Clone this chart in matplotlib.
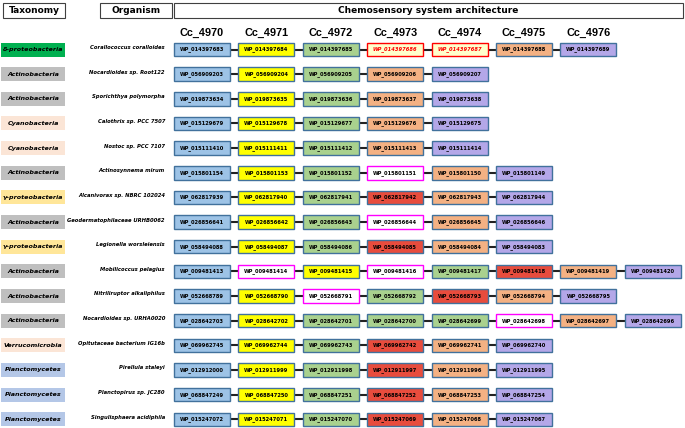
import matplotlib
matplotlib.use("Agg")
import matplotlib.pyplot as plt
from matplotlib.patches import Rectangle

# ---------------- data ----------------
columns = ["Cc_4970", "Cc_4971", "Cc_4972", "Cc_4973", "Cc_4974", "Cc_4975", "Cc_4976"]

taxonomy = ["δ-proteobacteria", "Actinobacteria", "Actinobacteria", "Cyanobacteria", "Cyanobacteria",
            "Actinobacteria", "γ-proteobacteria", "Actinobacteria", "γ-proteobacteria", "Actinobacteria",
            "Actinobacteria", "Actinobacteria", "Verrucomicrobia", "Planctomycetes", "Planctomycetes",
            "Planctomycetes"]

organisms = ["Corallococcus coralloides", "Nocardioides sp. Root122", "Sporichthya polymorpha",
             "Calothrix sp. PCC 7507", "Nostoc sp. PCC 7107", "Actinosynnema mirum",
             "Alcanivorax sp. NBRC 102024", "Geodermatophilaceae URHB0062", "Legionella worsleiensis",
             "Mobilicoccus pelagius", "Nitriliruptor alkaliphilus", "Nocardioides sp. URHA0020",
             "Opitutaceae bacterium IG16b", "Pirellula staleyi", "Planctopirus sp. JC280",
             "Singulisphaera acidiphila"]

proteins = [
    ["014397683", "014397684", "014397685", "014397686", "014397687", "014397688", "014397689"],
    ["056909203", "056909204", "056909205", "056909206", "056909207"],
    ["019873634", "019873635", "019873636", "019873637", "019873638"],
    ["015129679", "015129678", "015129677", "015129676", "015129675"],
    ["015111410", "015111411", "015111412", "015111413", "015111414"],
    ["015801154", "015801153", "015801152", "015801151", "015801150", "015801149"],
    ["062817939", "062817940", "062817941", "062817942", "062817943", "062817944"],
    ["026856641", "026856642", "026856643", "026856644", "026856645", "026856646"],
    ["058494088", "058494087", "058494086", "058494085", "058494084", "058494083"],
    ["009481413", "009481414", "009481415", "009481416", "009481417", "009481418", "009481419", "009481420"],
    ["052668789", "052668790", "052668791", "052668792", "052668793", "052668794", "052668795"],
    ["028642703", "028642702", "028642701", "028642700", "028642699", "028642698", "028642697", "028642696"],
    ["069962745", "069962744", "069962743", "069962742", "069962741", "069962740"],
    ["012912000", "012911999", "012911998", "012911997", "012911996", "012911995"],
    ["068847249", "068847250", "068847251", "068847252", "068847253", "068847254"],
    ["015247072", "015247071", "015247070", "015247069", "015247068", "015247067"],
]

# protein class per box: b=blue, y=yellow, g=green, w=white/magenta, r=red, o=orange, p=purple, s=special
classes = [
    "bygssop", "bygop", "bygop", "bygop", "bygop", "bygwop", "bygrop", "bygwop", "bygrop",
    "bwywgrop", "bywgrop", "bygggwop", "bygrop", "bygrop", "bygrop", "bygrop",
]

# ---------------- styles ----------------
tax_colors = {"δ-proteobacteria": "#00B050", "Actinobacteria": "#BFBFBF", "Cyanobacteria": "#FBE5D6",
              "γ-proteobacteria": "#FFE699", "Verrucomicrobia": "#FBE5D6", "Planctomycetes": "#B4C7E7"}
box_style = {
    "b": ("#9DC3E6", "#41719C", "black", "normal"),
    "y": ("#FFFF00", "#41719C", "black", "normal"),
    "g": ("#A9D18E", "#41719C", "black", "normal"),
    "w": ("#FFFFFF", "#FF00FF", "black", "normal"),
    "r": ("#E84C3D", "#41719C", "black", "normal"),
    "o": ("#F4B183", "#41719C", "black", "normal"),
    "p": ("#B4A7E8", "#41719C", "black", "normal"),
    "s": ("#FFFFCC", "#FF0000", "#FF0000", "italic"),
}

W, H = 685, 428
fig = plt.figure(figsize=(W / 100, H / 100), dpi=100)
ax = fig.add_axes([0, 0, 1, 1])
ax.set_xlim(0, W)
ax.set_ylim(H, 0)
ax.axis("off")

# header boxes
for (x0, x1, label, cx) in [(3, 65, "Taxonomy", 34), (100, 172, "Organism", 136),
                            (174, 683, "Chemosensory system architecture", 428)]:
    ax.add_patch(Rectangle((x0, 3), x1 - x0, 15, facecolor="white", edgecolor="#404040", lw=0.8))
    ax.text(cx, 10.5, label, ha="center", va="center", fontsize=6.5, fontweight="bold")

col_x0 = 174
col_step = 64.4
box_w = 56
box_h = 13.5
row_y0 = 49.5
row_step = 24.65

for i, c in enumerate(columns):
    ax.text(col_x0 + col_step * i + box_w / 2, 33, c, ha="center", va="center", fontsize=7.8,
            fontweight="bold", family="Liberation Sans")

for r in range(len(organisms)):
    yc = row_y0 + row_step * r
    t = taxonomy[r]
    ax.add_patch(Rectangle((1, yc - 7), 64, 14, facecolor=tax_colors[t], edgecolor="none"))
    ax.text(33, yc, t, ha="center", va="center", fontsize=4.6, fontweight="bold", style="italic")
    ax.text(165, yc - 2, organisms[r], ha="right", va="center", fontsize=3.8, fontweight="bold",
            style="italic")
    n = len(proteins[r])
    # connector line
    ax.plot([col_x0 + box_w / 2, col_x0 + col_step * (n - 1) + box_w / 2], [yc, yc], color="#222222",
            lw=1.5, zorder=1, solid_capstyle="butt")
    for j, (pid, cls) in enumerate(zip(proteins[r], classes[r])):
        fc, ec, tc, st = box_style[cls]
        x0 = col_x0 + col_step * j
        ax.add_patch(Rectangle((x0, yc - box_h / 2), box_w, box_h, facecolor=fc, edgecolor=ec,
                               lw=1.0, zorder=2))
        ax.text(x0 + box_w / 2, yc, "WP_" + pid, ha="center", va="center", fontsize=3.7,
                fontweight="bold", color=tc, style=st, zorder=3)

fig.savefig("out.png", dpi=100)
